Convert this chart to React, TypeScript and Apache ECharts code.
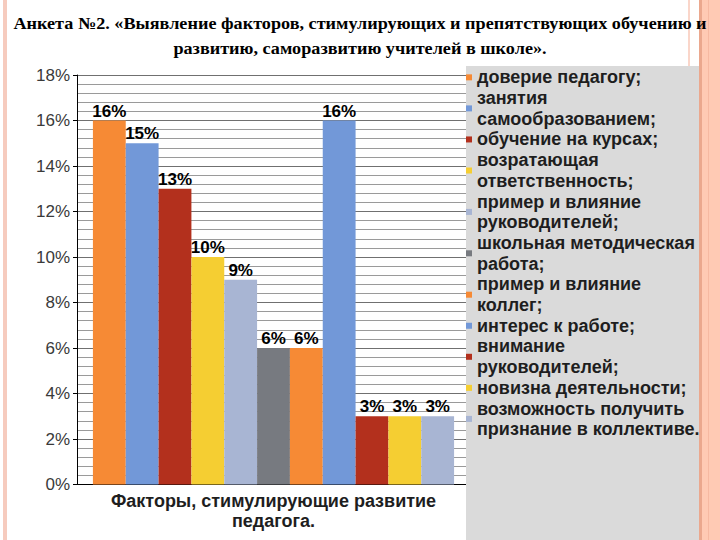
import React, { useEffect, useRef } from "react";
import * as echarts from "echarts";

const titleLines = [
  "Анкета №2. «Выявление факторов, стимулирующих и препятствующих обучению и",
  "развитию, саморазвитию учителей в школе».",
];
const category = ["Факторы, стимулирующие развитие\nпедагога."];
const seriesNames = [
  "доверие педагогу;",
  "занятия самообразованием;",
  "обучение на курсах;",
  "возратающая ответственность;",
  "пример и влияние руководителей;",
  "школьная методическая работа;",
  "пример и влияние коллег;",
  "интерес к работе;",
  "внимание руководителей;",
  "новизна деятельности;",
  "возможность получить признание в коллективе.",
];
const legendLabels = [
  "доверие педагогу;",
  "занятия\nсамообразованием;",
  "обучение на курсах;",
  "возратающая\nответственность;",
  "пример и влияние\nруководителей;",
  "школьная методическая\nработа;",
  "пример и влияние\nколлег;",
  "интерес к работе;",
  "внимание\nруководителей;",
  "новизна деятельности;",
  "возможность получить\nпризнание в коллективе.",
];
const values = [16, 15, 13, 10, 9, 6, 6, 16, 3, 3, 3];
const colors = [
  "#F68A35",
  "#7298D8",
  "#B3301D",
  "#F5CE32",
  "#A8B5D3",
  "#777A80",
  "#F68A35",
  "#7298D8",
  "#B3301D",
  "#F5CE32",
  "#A8B5D3",
];

const SANS = "'Liberation Sans', Arial, sans-serif";
const SERIF = "'Liberation Serif', 'Times New Roman', serif";

export default function App() {
  const ref = useRef<HTMLDivElement>(null);
  useEffect(() => {
    if (!ref.current) return;
    const chart = echarts.init(ref.current, null, { renderer: "svg" });
    const labelMap: Record<string, string> = {};
    seriesNames.forEach((n, i) => (labelMap[n] = legendLabels[i]));
    chart.setOption({
      animation: false,
      backgroundColor: "#ffffff",
      graphic: [
        { type: "rect", z: 0, shape: { x: 3, y: 0, width: 4, height: 540 }, style: { fill: "#F6CBBE" } },
        { type: "rect", z: 0, shape: { x: 688, y: 0, width: 2, height: 540 }, style: { fill: "#FAD6CA" } },
        { type: "rect", z: 0, shape: { x: 699, y: 0, width: 3, height: 540 }, style: { fill: "#EBA88E" } },
        { type: "rect", z: 0, shape: { x: 702, y: 0, width: 18, height: 540 }, style: { fill: "#FFCAB4" } },
        { type: "rect", z: 0, shape: { x: 708, y: 0, width: 1, height: 540 }, style: { fill: "#F6B9A2" } },
        { type: "rect", z: 1, shape: { x: 466, y: 66, width: 233, height: 474 }, style: { fill: "#DADADA" } },
        ...titleLines.map((t, i) => ({
          type: "text",
          z: 20,
          x: 360,
          y: 23.5 + i * 25,
          scaleX: 1.07,
          style: {
            text: t,
            x: 0,
            y: 0,
            align: "center",
            verticalAlign: "middle",
            fontFamily: SERIF,
            fontWeight: "bold",
            fontSize: 17,
            fill: "#000",
          },
        })),
      ],
      legend: {
        orient: "vertical",
        left: 466,
        top: 67,
        padding: 0,
        z: 10,
        itemGap: 0,
        itemWidth: 6,
        itemHeight: 6,
        icon: "rect",
        data: seriesNames,
        formatter: (n: string) => labelMap[n] || n,
        textStyle: {
          fontFamily: SANS,
          fontWeight: "bold",
          fontSize: 18,
          lineHeight: 20.7,
          color: "#1e1e1e",
        },
      },
      grid: {
        left: 77,
        right: 250,
        top: 75,
        bottom: 55.5,
        containLabel: false,
      },
      xAxis: {
        type: "category",
        data: category,
        axisLine: { show: true, lineStyle: { color: "#000", width: 1 } },
        axisTick: { show: false },
        axisLabel: {
          margin: 6,
          fontFamily: SANS,
          fontWeight: "bold",
          fontSize: 18,
          lineHeight: 20,
          color: "#1e1e1e",
        },
      },
      yAxis: {
        type: "value",
        min: 0,
        max: 18,
        interval: 2,
        axisLine: { show: true, lineStyle: { color: "#000", width: 1 } },
        axisTick: { show: true, length: 4, lineStyle: { color: "#000" } },
        axisLabel: {
          formatter: "{value}%",
          fontFamily: SANS,
          fontSize: 17,
          color: "#3a3a3a",
          margin: 7,
        },
        splitLine: { show: true, lineStyle: { color: "#707070", width: 1 } },
        minorTick: { show: false, splitNumber: 5 },
        minorSplitLine: { show: true, lineStyle: { color: "#9a9a9a", width: 1 } },
      },
      series: seriesNames.map((name, i) => ({
        type: "bar",
        name,
        data: [values[i]],
        barGap: "0%",
        barCategoryGap: "8.1%",
        itemStyle: { color: colors[i] },
        label: {
          show: true,
          position: "top",
          distance: 1,
          formatter: "{c}%",
          fontFamily: SANS,
          fontWeight: "bold",
          fontSize: 17,
          color: "#000",
        },
      })),
    });
    return () => chart.dispose();
  }, []);
  return (
    <div
      ref={ref}
      style={{ position: "fixed", left: 0, top: 0, width: 720, height: 540 }}
    />
  );
}
